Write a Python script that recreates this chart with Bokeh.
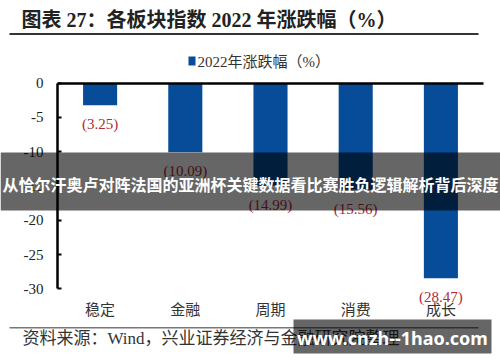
from bokeh.plotting import figure
from bokeh.models import (ColumnDataSource, LabelSet, Label, BoxAnnotation, Range1d,
                          LinearAxis, FixedTicker)
from bokeh.core.properties import value
from bokeh.embed import file_html
from bokeh.resources import INLINE

categories = ["稳定", "金融", "周期", "消费", "成长"]
changes = [-3.25, -10.09, -14.99, -15.56, -28.47]
change_labels = ["(3.25)", "(10.09)", "(14.99)", "(15.56)", "(28.47)"]
y_ticks = [0, -5, -10, -15, -20, -25, -30]
y_min, y_max = -30, 0
title_text = "图表 27：各板块指数 2022 年涨跌幅（%）"
legend_text = "2022年涨跌幅（%）"
source_text = "资料来源：Wind，兴业证券经济与金融研究院整理"
banner_text = "从恰尔汗奥卢对阵法国的亚洲杯关键数据看比赛胜负逻辑解析背后深度"
watermark_text = "www.cnzh--1hao.com"

BLUE = "#074c98"
RED = "#b02a37"
SERIF = "'Liberation Serif', 'Noto Sans CJK SC'"
CJK = "Noto Sans CJK SC"

W, H = 500, 362            # canvas == frame
# layout of the plotting area inside the canvas (pixels)
AX_LEFT, AX_RIGHT = 57, 483
AX_TOP, AX_BOTTOM = 82.5, 288.3
n = len(categories)
xs_per_px = n / (AX_RIGHT - AX_LEFT)
ys_per_px = (y_max - y_min) / (AX_BOTTOM - AX_TOP)
x_start = -0.5 - AX_LEFT * xs_per_px
x_end = x_start + W * xs_per_px
y_end = y_max + AX_TOP * ys_per_px
y_start = y_end - H * ys_per_px

idx = list(range(n))
src = ColumnDataSource(dict(x=idx, val=changes, lab=change_labels))

p = figure(x_range=Range1d(x_start, x_end), y_range=Range1d(y_start, y_end),
           width=W, height=H, output_backend="svg", toolbar_location=None,
           x_axis_type=None, y_axis_type=None,
           min_border_left=0, min_border_right=0, min_border_top=0, min_border_bottom=0)
p.outline_line_color = None
p.grid.visible = False
p.background_fill_color = "white"

p.vbar(x="x", top="val", bottom=0, width=0.4, source=src, fill_color=BLUE, line_color=None)

p.add_layout(LabelSet(x="x", y="val", text="lab", source=src, y_offset=-19,
                      text_align="center", text_baseline="middle",
                      text_font=value("Liberation Serif"), text_font_size="15px", text_color=RED))

# y axis
yax = LinearAxis(fixed_location=-0.5, bounds=(y_min, y_max), ticker=FixedTicker(ticks=y_ticks))
yax.major_label_overrides = {t: str(t) for t in y_ticks}
yax.axis_line_width = 2.5
yax.axis_line_color = "black"
yax.major_tick_in = 4
yax.major_tick_out = 0
yax.major_tick_line_width = 2
yax.minor_tick_line_color = None
yax.major_label_standoff = 14
yax.major_label_text_font = "Liberation Serif"
yax.major_label_text_font_size = "15px"
yax.major_label_text_color = "#222222"
p.add_layout(yax, "left")

# x axis (category labels)
xax = LinearAxis(fixed_location=y_min, bounds=(-0.5, n - 0.5), ticker=FixedTicker(ticks=idx))
xax.major_label_overrides = {i: c for i, c in zip(idx, categories)}
xax.axis_line_color = None
xax.major_tick_line_color = None
xax.major_tick_in = 0
xax.major_tick_out = 0
xax.minor_tick_line_color = None
xax.major_label_standoff = 9
xax.major_label_text_font = CJK
xax.major_label_text_font_size = "15px"
xax.major_label_text_color = "#333333"
p.add_layout(xax, "below")

# zero line
zax = LinearAxis(fixed_location=0, bounds=(-0.5, n - 0.5), ticker=FixedTicker(ticks=[]))
zax.axis_line_width = 2.5
zax.axis_line_color = "black"
zax.major_tick_line_color = None
zax.minor_tick_line_color = None
zax.major_label_text_font_size = "0px"
p.add_layout(zax, "above")

# helpers: page coordinates -> canvas screen coordinates
def sx(x):
    return x
def sy(y):
    return H - y

def label(x, y, text, **kw):
    p.add_layout(Label(x=sx(x), y=sy(y), x_units="screen", y_units="screen", text=text, **kw))

def box(l, r, t, b, **kw):
    p.add_layout(BoxAnnotation(left=sx(l), right=sx(r), top=sy(t), bottom=sy(b),
                               left_units="screen", right_units="screen",
                               top_units="screen", bottom_units="screen", **kw))

label(21, 19.5, title_text, text_font=SERIF, text_font_style="bold", text_font_size="20px",
      text_color="#222222", text_baseline="middle")
box(9, 478, 32.5, 34.5, fill_color="#333333", fill_alpha=1, line_color=None)

box(188, 195, 56, 65, fill_color=BLUE, fill_alpha=1, line_color=None)
label(197, 61, legend_text, text_font=SERIF, text_font_size="15px",
      text_color="#333333", text_baseline="middle")

box(9, 478, 326.5, 328, fill_color="#777777", fill_alpha=1, line_color=None)
label(22, 337.5, source_text, text_font=SERIF, text_font_size="17px",
      text_color="#333333", text_baseline="middle")

box(0, 500, 152, 210, fill_color="black", fill_alpha=0.6, line_color=None)
label(250, 183, banner_text, text_font=CJK, text_font_style="bold", text_font_size="16px",
      text_color="white", text_align="center", text_baseline="middle")

box(293, 491, 319, 353, fill_color="black", fill_alpha=0.6, line_color=None)
label(392, 337, watermark_text, text_font="Noto Sans", text_font_style="bold", text_font_size="18px",
      text_color="white", text_align="center", text_baseline="middle")

open("out.html", "w").write(file_html(p, INLINE))
